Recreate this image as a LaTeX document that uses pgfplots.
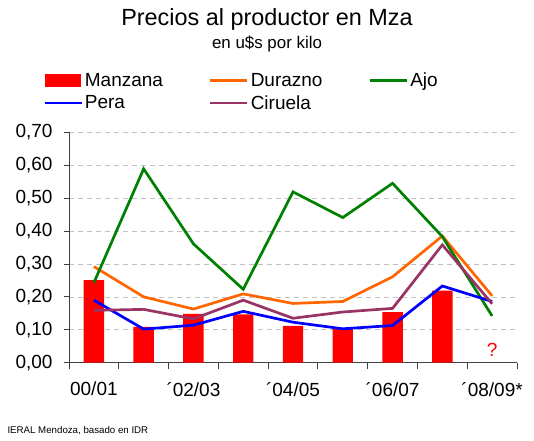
\documentclass[border=0pt]{standalone}
\usepackage{fontspec}
\setmainfont{Liberation Sans}
\usepackage{pgfplots}
\pgfplotsset{compat=1.18}
\definecolor{cManzana}{HTML}{FF0000}
\definecolor{cDurazno}{HTML}{FF6600}
\definecolor{cAjo}{HTML}{008000}
\definecolor{cPera}{HTML}{0000FF}
\definecolor{cCiruela}{HTML}{993366}
\definecolor{cGrid}{HTML}{C0C0C0}
\begin{document}
\begin{tikzpicture}[x=1bp,y=1bp]
\useasboundingbox (0,0) rectangle (534,441);
\node[font=\fontsize{23.4bp}{26bp}\selectfont] at (267,422) {Precios al productor en Mza};
\node[font=\fontsize{16.9bp}{19bp}\selectfont] at (267,397) {en u\$s por kilo};
\node[font=\fontsize{9.7bp}{11bp}\selectfont, anchor=west] at (4,10) {IERAL Mendoza, basado en IDR};
\begin{axis}[
  at={(69bp,78.3bp)}, anchor=south west,
  scale only axis, width=448bp, height=230.4bp,
  xmin=-0.5, xmax=8.5, ymin=0, ymax=0.7,
  axis x line*=bottom, axis y line*=left,
  axis line style={draw=black!75, line width=0.8bp},
  tick style={draw=black!75, line width=0.8bp},
  tick align=outside,
  ytick={0,0.1,...,0.71},
  major tick length=5bp,
  minor tick length=6bp,
  xtick={0,2,4,6,8},
  xticklabels={00/01,´02/03,´04/05,´06/07,´08/09*},
  major x tick style={draw=none},
  minor xtick={-0.5,0.5,...,8.6},
  ymajorgrids,
  grid style={draw=cGrid, dash pattern=on 5bp off 4bp, line width=0.7bp},
  /pgf/number format/.cd, fixed, fixed zerofill, precision=2, use comma, assume math mode=true,
  /pgfplots/.cd,
  tick label style={font=\fontsize{19bp}{22bp}\selectfont},
  yticklabel style={xshift=-8bp},
  xticklabel style={yshift=-11bp},
  legend columns=3,
  legend style={at={(rel axis cs:-0.058,1.266)}, anchor=north west, draw=none, fill=none,
    font=\fontsize{19bp}{22bp}\selectfont, inner sep=0bp, row sep=3bp,
    /tikz/every even column/.append style={column sep=44bp}},
  legend cell align=left,
  legend image code/.code={\draw[#1, line width=2.7bp] (0bp,0bp) -- (37bp,0bp);},
]
\addplot[ybar, bar width=0.41, fill=cManzana, draw=none,
  legend image code/.code={\fill[cManzana] (0bp,-6.5bp) rectangle (36bp,6.5bp);}]
  coordinates {(0,0.251) (1,0.109) (2,0.148) (3,0.147) (4,0.112) (5,0.104) (6,0.154) (7,0.219)};
\addlegendentry{Manzana}
\addplot[cDurazno, line width=2.7bp, no markers]
  coordinates {(0,0.292) (1,0.200) (2,0.163) (3,0.209) (4,0.180) (5,0.186) (6,0.261) (7,0.385) (8,0.203)};
\addlegendentry{Durazno}
\addplot[cAjo, line width=2.7bp, no markers]
  coordinates {(0,0.243) (1,0.589) (2,0.361) (3,0.223) (4,0.519) (5,0.441) (6,0.545) (7,0.383) (8,0.142)};
\addlegendentry{Ajo}
\addplot[cPera, line width=2.7bp, no markers]
  coordinates {(0,0.190) (1,0.102) (2,0.114) (3,0.156) (4,0.123) (5,0.103) (6,0.113) (7,0.233) (8,0.186)};
\addlegendentry{Pera}
\addplot[cCiruela, line width=2.7bp, no markers]
  coordinates {(0,0.159) (1,0.162) (2,0.133) (3,0.190) (4,0.135) (5,0.154) (6,0.165) (7,0.358) (8,0.179)};
\addlegendentry{Ciruela}
\node[text=cManzana, font=\fontsize{19bp}{22bp}\selectfont] at (axis cs:8,0.039) {?};
\end{axis}
\end{tikzpicture}
\end{document}
